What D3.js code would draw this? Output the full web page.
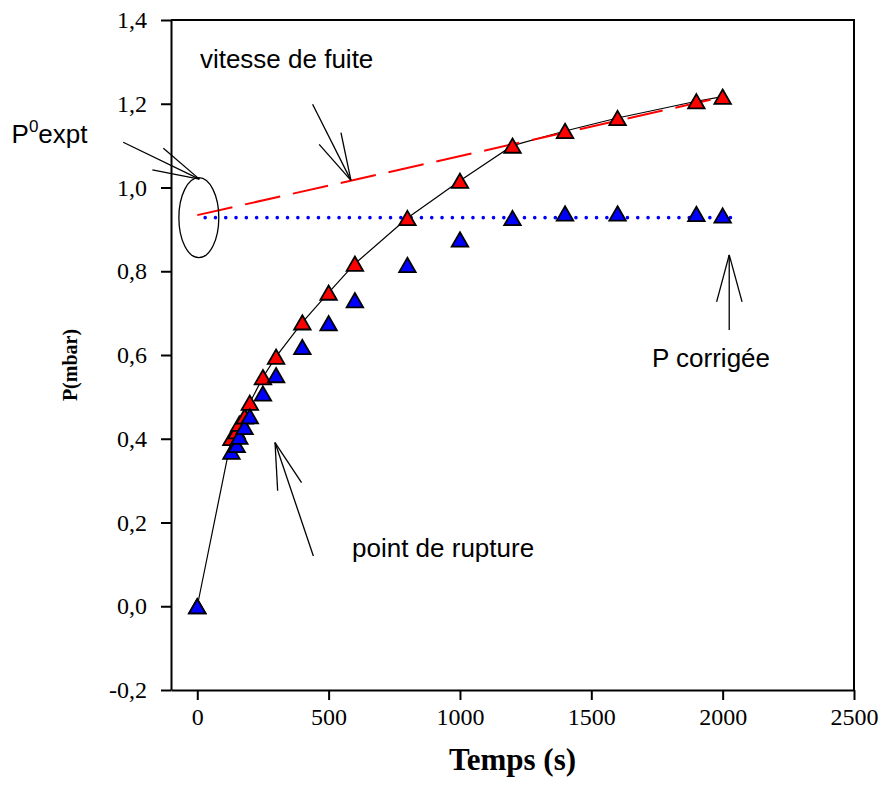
<!DOCTYPE html>
<html>
<head>
<meta charset="utf-8">
<script src="https://cdn.jsdelivr.net/npm/d3@7"></script>
<style>
  body { margin: 0; background: #fff; }
  svg { display: block; }
  .tick text { font-family: "Liberation Serif", "Times New Roman", serif; font-size: 24px; fill: #000; }
  .note { font-family: "Liberation Sans", Arial, sans-serif; font-size: 26px; fill: #000; }
</style>
</head>
<body>
<svg id="chart"></svg>
<script>
// data
const temps      = [0, 130, 150, 160, 180, 200, 250, 300, 400, 500, 600, 800, 1000, 1200, 1400, 1600, 1900, 2000];
const pMesuree   = [0, 0.402, 0.418, 0.436, 0.453, 0.486, 0.547, 0.596, 0.678, 0.749, 0.818, 0.927, 1.016, 1.100, 1.135, 1.166, 1.206, 1.217];
const pCorrigee  = [0, 0.369, 0.385, 0.405, 0.428, 0.454, 0.508, 0.552, 0.619, 0.676, 0.731, 0.815, 0.876, 0.927, 0.938, 0.938, 0.937, 0.933];
const fuiteLine  = [[0, 0.934], [2000, 1.216]];
const corrLine   = [[30, 0.928], [2030, 0.928]];
const xTicks = [0, 500, 1000, 1500, 2000, 2500];
const yTicks = [-0.2, 0, 0.2, 0.4, 0.6, 0.8, 1.0, 1.2, 1.4];

const width = 885;
const height = 804;
const margin = {left: 171, right: 31, top: 20, bottom: 114};

const svg = d3.select("#chart")
    .attr("width", width)
    .attr("height", height);

const x = d3.scaleLinear().domain([-100, 2500]).range([margin.left, width - margin.right]);
const y = d3.scaleLinear().domain([-0.2, 1.4]).range([height - margin.bottom, margin.top]);

const fr = d3.formatLocale({decimal: ",", thousands: ".", grouping: [3], currency: ["", "€"], minus: "-"});

// axes
svg.append("g")
    .attr("transform", `translate(0,${y(-0.2)})`)
    .call(d3.axisBottom(x).tickValues(xTicks).tickSize(10).tickSizeOuter(0).tickPadding(8).tickFormat(d3.format("d")))
    .call(g => g.select(".domain").attr("stroke-width", 2))
    .call(g => g.selectAll(".tick line").attr("stroke-width", 2));

svg.append("g")
    .attr("transform", `translate(${x(-100)},0)`)
    .call(d3.axisLeft(y).tickValues(yTicks).tickSize(10).tickSizeOuter(0).tickPadding(14).tickFormat(fr.format(".1f")))
    .call(g => g.select(".domain").attr("stroke-width", 2))
    .call(g => g.selectAll(".tick line").attr("stroke-width", 2));

// frame top and right
svg.append("path")
    .attr("d", `M${x(-100)},${y(1.4)}H${x(2500)}V${y(-0.2)}`)
    .attr("fill", "none")
    .attr("stroke", "#000")
    .attr("stroke-width", 2);

// axis titles
svg.append("text")
    .attr("x", (x(-100) + x(2500)) / 2)
    .attr("y", 770)
    .attr("text-anchor", "middle")
    .style("font-family", "'Liberation Serif', 'Times New Roman', serif")
    .style("font-weight", "bold")
    .style("font-size", "31px")
    .text("Temps (s)");

svg.append("text")
    .attr("transform", `translate(77,${(y(-0.2) + y(1.4)) / 2 + 10}) rotate(-90)`)
    .attr("text-anchor", "middle")
    .style("font-family", "'Liberation Serif', 'Times New Roman', serif")
    .style("font-weight", "bold")
    .style("font-size", "20px")
    .text("P(mbar)");

// lines
const line = d3.line().x(d => x(d[0])).y(d => y(d[1]));

svg.append("path")
    .datum(temps.map((t, i) => [t, pMesuree[i]]))
    .attr("d", line)
    .attr("fill", "none")
    .attr("stroke", "#000")
    .attr("stroke-width", 1.2);

svg.append("path")
    .datum(fuiteLine)
    .attr("d", line)
    .attr("fill", "none")
    .attr("stroke", "#ff0000")
    .attr("stroke-width", 2)
    .attr("stroke-dasharray", "36 13");

svg.append("path")
    .datum(corrLine)
    .attr("d", line)
    .attr("fill", "none")
    .attr("stroke", "#0000ff")
    .attr("stroke-width", 3.6)
    .attr("stroke-linecap", "round")
    .attr("stroke-dasharray", "0 10.3");

// markers: triangle centred on its bounding box, like SigmaPlot
const triangleBox = {
  draw(ctx, size) {
    const s = Math.sqrt(size / (Math.sqrt(3) / 4));
    const h = s * Math.sqrt(3) / 2;
    ctx.moveTo(0, -h / 2);
    ctx.lineTo(s / 2, h / 2);
    ctx.lineTo(-s / 2, h / 2);
    ctx.closePath();
  }
};
const tri = d3.symbol(triangleBox, 118);

svg.append("g").selectAll("path")
    .data(temps.map((t, i) => [t, pMesuree[i]]))
    .join("path")
    .attr("d", tri)
    .attr("transform", d => `translate(${x(d[0])},${y(d[1])})`)
    .attr("fill", "#ff0000")
    .attr("stroke", "#000")
    .attr("stroke-width", 1.8);

svg.append("g").selectAll("path")
    .data(temps.map((t, i) => [t, pCorrigee[i]]))
    .join("path")
    .attr("d", tri)
    .attr("transform", d => `translate(${x(d[0])},${y(d[1])})`)
    .attr("fill", "#0000ff")
    .attr("stroke", "#000")
    .attr("stroke-width", 1.8);

// annotations (data units)
const ann = svg.append("g").attr("fill", "none").attr("stroke", "#000").attr("stroke-width", 1.3);

ann.append("ellipse")
    .attr("cx", x(6)).attr("cy", y(0.928))
    .attr("rx", x(76) - x(0)).attr("ry", y(0) - y(0.0955));

const arrows = [
  {tip: [8, 1.02], ends: [[-282, 1.108], [-171, 1.042], [-129, 1.094]]},
  {tip: [585, 1.017], ends: [[439, 1.199], [464, 1.103], [547, 1.131]]},
  {tip: [2025, 0.839], ends: [[2025, 0.660], [1977, 0.727], [2074, 0.727]]},
  {tip: [296, 0.391], ends: [[306, 0.276], [397, 0.295], [442, 0.120]]}
];
arrows.forEach(a => {
  a.ends.forEach(e => {
    ann.append("line")
      .attr("x1", x(a.tip[0])).attr("y1", y(a.tip[1]))
      .attr("x2", x(e[0])).attr("y2", y(e[1]));
  });
});

const p0 = svg.append("text").attr("class", "note")
    .attr("x", x(-707)).attr("y", y(1.106));
p0.append("tspan").text("P");
p0.append("tspan").attr("dy", -11).style("font-size", "17px").text("0");
p0.append("tspan").attr("dy", 11).text("expt");

svg.append("text").attr("class", "note")
    .attr("x", x(10)).attr("y", y(1.286))
    .text("vitesse de fuite");

svg.append("text").attr("class", "note")
    .attr("x", x(1731)).attr("y", y(0.571))
    .text("P corrigée");

svg.append("text").attr("class", "note")
    .attr("x", x(589)).attr("y", y(0.1176))
    .text("point de rupture");
</script>
</body>
</html>
